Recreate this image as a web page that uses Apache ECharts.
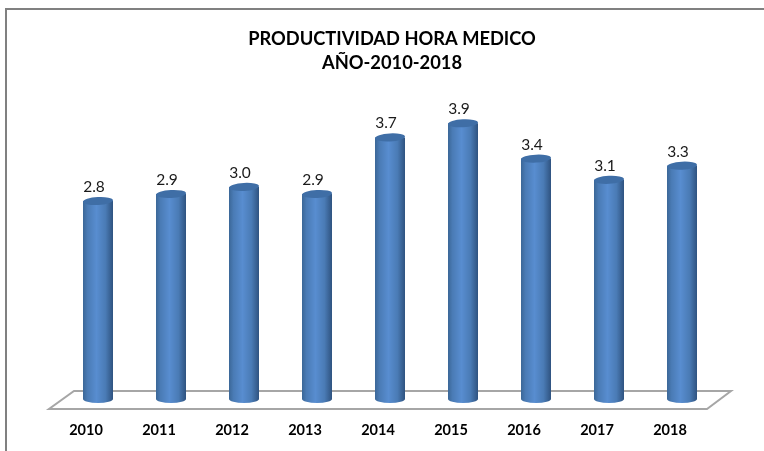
<!DOCTYPE html>
<html>
<head>
<meta charset="utf-8">
<style>
  html, body { margin: 0; padding: 0; background: #fff; }
  #chart { width: 764px; height: 451px; }
</style>
<script src="https://cdn.jsdelivr.net/npm/echarts@6/dist/echarts.min.js"></script>
</head>
<body>
<div id="chart"></div>
<script>
  const titleText = "PRODUCTIVIDAD HORA MEDICO\nAÑO-2010-2018"
  const years = ["2010", "2011", "2012", "2013", "2014", "2015", "2016", "2017", "2018"]
  const productividad = [2.8, 2.9, 3.0, 2.9, 3.7, 3.9, 3.4, 3.1, 3.3]

  const sideColor = new echarts.graphic.LinearGradient(0, 0, 1, 0, [
    { offset: 0, color: "#3b6797" },
    { offset: 0.15, color: "#4a7bb5" },
    { offset: 0.45, color: "#588dd0" },
    { offset: 0.75, color: "#4a7bb5" },
    { offset: 1, color: "#2f5380" },
  ])

  const myChart = echarts.init(document.getElementById("chart"))
  myChart.setOption({
    animation: false,
    backgroundColor: "#fff",
    title: {
      text: titleText,
      left: 387,
      top: 22,
      textAlign: "center",
      textStyle: {
        fontFamily: "Lato",
        fontSize: 18.3,
        fontWeight: "bold",
        color: "#000",
        lineHeight: 24,
      },
    },
    grid: { left: 61.5, right: 45.5, top: 45.5, bottom: 52 },
    xAxis: {
      type: "category",
      data: years,
      axisLine: { show: false },
      axisTick: { show: false },
      axisLabel: {
        margin: 24,
        padding: [0, 24, 0, 0], // etiquetas corridas a la izquierda por la perspectiva
        fontFamily: "Lato",
        fontSize: 14.5,
        fontWeight: "bold",
        color: "#000",
      },
    },
    yAxis: { type: "value", min: 0, max: 5, show: false },
    // marco y piso del grafico
    graphic: [
      {
        type: "polyline",
        shape: { points: [[6, 451], [6, 9], [764, 9]] },
        style: { stroke: "#808080", lineWidth: 2, fill: null },
      },
      {
        type: "polygon",
        shape: { points: [[49, 409], [707, 409], [731, 391], [74, 391]] },
        style: { stroke: "#a6a6a6", lineWidth: 2, fill: "#fff" },
      },
    ],
    series: [
      {
        type: "bar",
        data: productividad,
        barWidth: 30,
        itemStyle: { color: sideColor },
        z: 3,
      },
      {
        type: "pictorialBar",
        data: productividad,
        symbol: "circle",
        symbolSize: [30, 8],
        symbolPosition: "start",
        symbolOffset: [0, "50%"], // elipse inferior
        itemStyle: { color: sideColor },
        z: 2,
      },
      {
        type: "pictorialBar",
        data: productividad,
        symbol: "circle",
        symbolSize: [30, 8],
        symbolPosition: "end",
        symbolOffset: [0, "-50%"], // elipse superior
        symbolRotate: 3,
        itemStyle: { color: "#3f6ea6" },
        label: {
          show: true,
          position: "top",
          distance: 2,
          offset: [-4, 0],
          fontFamily: "Lato",
          fontSize: 15.5,
          color: "#1a1a1a",
          formatter: (p) => p.value.toFixed(1),
        },
        z: 4,
      },
    ],
  })
</script>
</body>
</html>
